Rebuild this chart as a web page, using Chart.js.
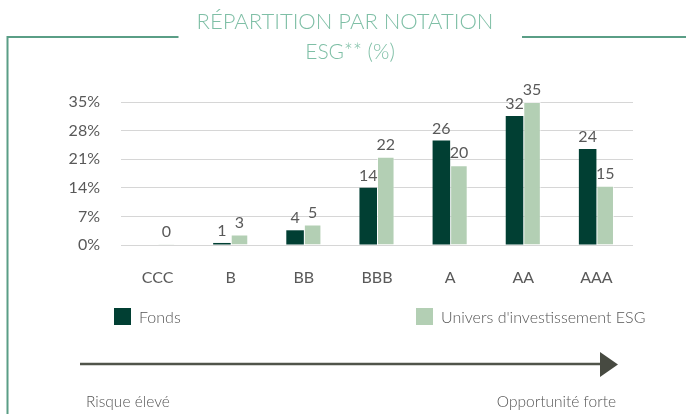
<!DOCTYPE html>
<html>
<head>
<meta charset="utf-8">
<script src="https://cdn.jsdelivr.net/npm/chart.js@4"></script>
<style>
  html, body { margin: 0; padding: 0; background: #fff; }
  #wrap { position: relative; width: 686px; height: 414px; }
</style>
</head>
<body>
<div id="wrap"><canvas id="notation"></canvas></div>
<script>
const ratings = ["CCC", "B", "BB", "BBB", "A", "AA", "AAA"];
const fondsValues = [null, 0.5, 3.6, 14, 25.6, 31.6, 23.5];
const universValues = [0.3, 2.6, 5.0, 21.6, 19.5, 35, 14.5];
const yTicks = [0, 7, 14, 21, 28, 35];
const titleLines = ["RÉPARTITION PAR NOTATION", "ESG** (%)"];
const seriesNames = ["Fonds", "Univers d'investissement ESG"];
const axisEnds = ["Risque élevé", "Opportunité forte"];

const darkGreen = "#013f33";
const lightGreen = "#b3cfb4";
const textGrey = "#595959";

// labels au-dessus des barres
const valueLabels = {
  id: "valueLabels",
  afterDatasetsDraw(chart) {
    const ctx = chart.ctx;
    ctx.save();
    ctx.font = "16px Lato";
    ctx.fillStyle = textGrey;
    ctx.textAlign = "center";
    ctx.textBaseline = "bottom";
    chart.data.datasets.forEach((ds, i) => {
      chart.getDatasetMeta(i).data.forEach((bar, j) => {
        if (ds.data[j] === null) return;
        ctx.fillText(Math.round(ds.data[j]), bar.x, bar.y - 4);
      });
    });
    ctx.restore();
  },
};

// titre, cadre, légende et flèche
const decorations = {
  id: "decorations",
  afterDraw(chart) {
    const ctx = chart.ctx;
    ctx.save();
    ctx.fillStyle = "#7fbfa6";
    ctx.textAlign = "center";
    ctx.textBaseline = "middle";
    ctx.font = "300 22px Lato";
    ctx.fillText(titleLines[0], 345, 22);
    ctx.font = "300 21px Lato";
    ctx.fillText(titleLines[1], 350, 52);

    ctx.strokeStyle = "#5a9e86";
    ctx.lineWidth = 2;
    ctx.beginPath();
    ctx.moveTo(178.5, 37);
    ctx.lineTo(7.5, 37);
    ctx.lineTo(7.5, 414);
    ctx.moveTo(522, 37);
    ctx.lineTo(686, 37);
    ctx.stroke();

    // légende
    const colors = [darkGreen, lightGreen];
    const boxX = [114, 416];
    ctx.font = "300 16px Lato";
    ctx.textAlign = "left";
    colors.forEach((c, i) => {
      ctx.fillStyle = c;
      ctx.fillRect(boxX[i], 308, 17, 17);
      ctx.fillStyle = "#555";
      ctx.fillText(seriesNames[i], boxX[i] + 25, 318);
    });

    // flèche
    ctx.strokeStyle = "#50544a";
    ctx.lineWidth = 2.5;
    ctx.beginPath();
    ctx.moveTo(80, 364);
    ctx.lineTo(602, 364);
    ctx.stroke();
    ctx.fillStyle = "#474a41";
    ctx.beginPath();
    ctx.moveTo(600, 352);
    ctx.lineTo(618, 364.5);
    ctx.lineTo(600, 377);
    ctx.closePath();
    ctx.fill();

    ctx.fillStyle = "#555";
    ctx.font = "300 15.5px Lato";
    ctx.textAlign = "left";
    ctx.fillText(axisEnds[0], 86, 402);
    ctx.textAlign = "right";
    ctx.fillText(axisEnds[1], 616, 402);
    ctx.restore();
  },
};

new Chart(document.getElementById("notation"), {
  type: "bar",
  data: {
    labels: ratings,
    datasets: [
      {
        label: seriesNames[0],
        data: fondsValues,
        backgroundColor: darkGreen,
        borderWidth: 0,
      },
      {
        label: seriesNames[1],
        data: universValues,
        backgroundColor: lightGreen,
        borderColor: "rgba(255,255,255,0.6)",
        borderWidth: 1,
      },
    ],
  },
  options: {
    responsive: true,
    maintainAspectRatio: false,
    animation: false,
    layout: { padding: { top: 102, right: 53, left: 0, bottom: 0 } },
    datasets: { bar: { categoryPercentage: 0.48, barPercentage: 1 } },
    plugins: {
      legend: { display: false },
      tooltip: { enabled: false },
    },
    scales: {
      x: {
        grid: { display: false },
        border: { display: false },
        ticks: { color: textGrey, font: { family: "Lato", size: 16 }, padding: 15 },
        afterFit: (scale) => { scale.height = 169; },
      },
      y: {
        min: 0,
        max: 35,
        afterBuildTicks: (scale) => { scale.ticks = yTicks.map((v) => ({ value: v })); },
        grid: { color: "#d6d6d6", lineWidth: 1, drawTicks: false },
        border: { display: false },
        ticks: {
          color: textGrey,
          font: { family: "Lato", size: 16 },
          padding: 21,
          callback: (v) => v + "%",
        },
        afterFit: (scale) => { scale.width = 121; },
      },
    },
  },
  plugins: [valueLabels, decorations],
});
</script>
</body>
</html>
